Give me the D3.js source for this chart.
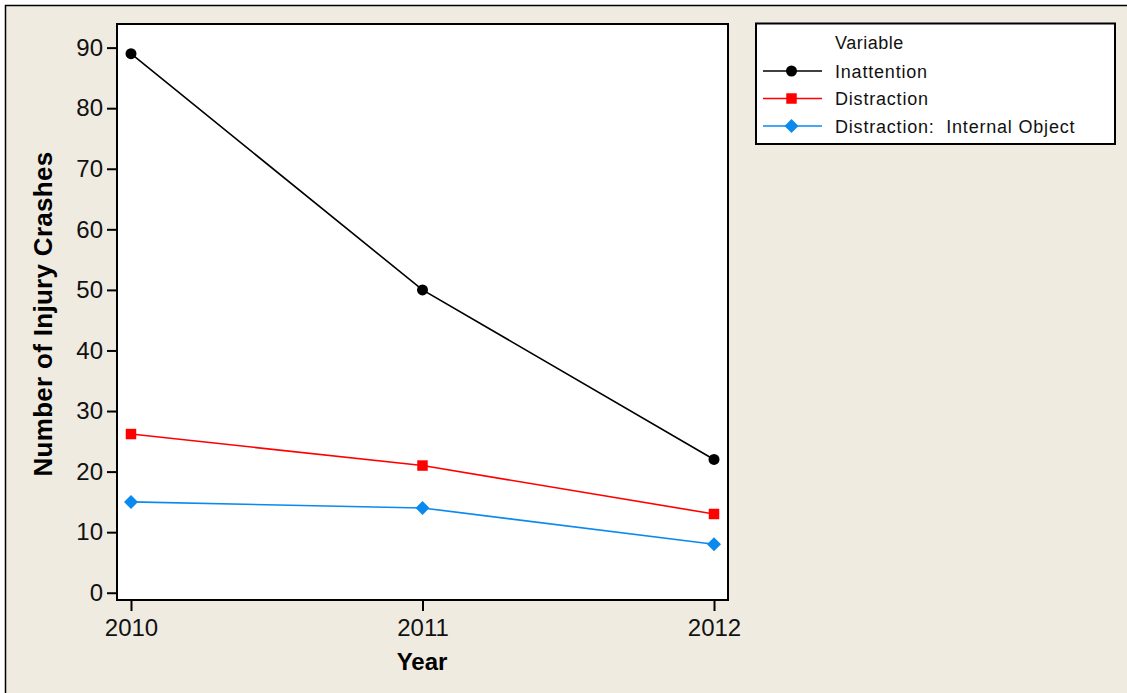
<!DOCTYPE html>
<html><head><meta charset="utf-8">
<script src="https://cdn.jsdelivr.net/npm/d3@7"></script>
<style>html,body{margin:0;padding:0;background:#fff;overflow:hidden}</style>
</head><body>
<svg id="chart" width="1127" height="693"></svg>
<script>
const years = [2010, 2011, 2012];
const inattention = [89, 50, 22];
const distraction = [26.2, 21, 13];
const internalObject = [15, 14, 8];
const seriesNames = ["Inattention", "Distraction", "Distraction:  Internal Object"];
const yTicks = [0, 10, 20, 30, 40, 50, 60, 70, 80, 90];

const svg = d3.select("#chart");
const font = "'Liberation Sans', Arial, sans-serif";

svg.append("rect").attr("x", 5.5).attr("y", 5.5).attr("width", 1130).attr("height", 700)
  .attr("fill", "#EFEBE0").attr("stroke", "#000").attr("stroke-width", 1.5);

const L = 117, R = 728, T = 24, B = 600;
const x = d3.scaleLinear().domain([2009.952, 2012.048]).range([L, R]);
const y = d3.scaleLinear().domain([-1.2, 93.9]).range([B, T]);

svg.append("rect").attr("x", L).attr("y", T).attr("width", R - L).attr("height", B - T)
  .attr("fill", "#fff").attr("stroke", "#000").attr("stroke-width", 2);

const yAxis = svg.append("g").attr("transform", `translate(${L},0)`)
  .call(d3.axisLeft(y).tickValues(yTicks).tickSize(10).tickPadding(4));
const xAxis = svg.append("g").attr("transform", `translate(0,${B})`)
  .call(d3.axisBottom(x).tickValues(years).tickFormat(d3.format("d")).tickSize(11).tickPadding(8));
[yAxis, xAxis].forEach(g => {
  g.select(".domain").remove();
  g.selectAll(".tick line").attr("stroke", "#000").attr("stroke-width", 2);
  g.selectAll("text").attr("font-family", font).attr("font-size", 24).attr("fill", "#111");
});

svg.append("text").attr("x", 422).attr("y", 670).attr("text-anchor", "middle")
  .attr("font-family", font).attr("font-size", 24).attr("font-weight", "bold").text("Year");
svg.append("text").attr("transform", "translate(52,314) rotate(-90)").attr("text-anchor", "middle")
  .attr("font-family", font).attr("font-size", 26).attr("font-weight", "bold")
  .style("letter-spacing", "0.3px").text("Number of Injury Crashes");

const diamond = {draw(ctx, size) { const r = Math.sqrt(size / 2); ctx.moveTo(0, -r); ctx.lineTo(r, 0); ctx.lineTo(0, r); ctx.lineTo(-r, 0); ctx.closePath(); }};
const series = [
  {name: seriesNames[0], values: inattention, color: "#000", shape: d3.symbolCircle, size: 95},
  {name: seriesNames[1], values: distraction, color: "#FF0000", shape: d3.symbolSquare, size: 110},
  {name: seriesNames[2], values: internalObject, color: "#0A8AEE", shape: diamond, size: 98}
];

const line = d3.line().x((d, i) => x(years[i])).y(d => y(d));
series.forEach(s => {
  svg.append("path").attr("d", line(s.values)).attr("fill", "none")
    .attr("stroke", s.color).attr("stroke-width", 1.6);
  svg.selectAll(null).data(s.values).enter().append("path")
    .attr("d", d3.symbol().type(s.shape).size(s.size))
    .attr("transform", (d, i) => `translate(${x(years[i])},${y(d)})`)
    .attr("fill", s.color);
});

const lg = svg.append("g");
lg.append("rect").attr("x", 756).attr("y", 23.5).attr("width", 359).attr("height", 120.5)
  .attr("fill", "#fff").attr("stroke", "#000").attr("stroke-width", 2);
lg.append("text").attr("x", 835).attr("y", 49).attr("font-family", font).attr("font-size", 18)
  .attr("fill", "#111").style("letter-spacing", "0.5px").text("Variable");
series.forEach((s, i) => {
  const cy = 71 + i * 27.5;
  lg.append("line").attr("x1", 763).attr("x2", 822).attr("y1", cy).attr("y2", cy)
    .attr("stroke", s.color).attr("stroke-width", 1.6);
  lg.append("path").attr("d", d3.symbol().type(s.shape).size(s.size))
    .attr("transform", `translate(791.5,${cy})`).attr("fill", s.color);
  lg.append("text").attr("x", 835).attr("y", cy + 6.5).attr("font-family", font).attr("font-size", 18)
    .attr("fill", "#111").style("letter-spacing", "0.8px").style("white-space", "pre").text(s.name);
});
</script>
</body></html>
